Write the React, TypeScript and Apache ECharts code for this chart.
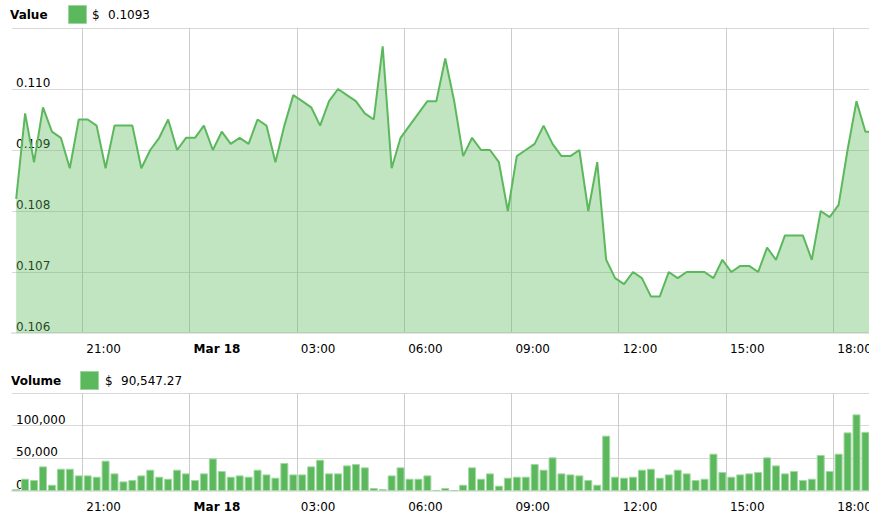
import React, { useEffect, useRef } from 'react';
import * as echarts from 'echarts';

// Price (USD) every 15 minutes, first point Mar 17 19:09
const priceValues = [
  0.1082, 0.1096, 0.1088, 0.1097, 0.1093, 0.1092, 0.1087, 0.1095, 0.1095, 0.1094,
  0.1087, 0.1094, 0.1094, 0.1094, 0.1087, 0.1090, 0.1092, 0.1095, 0.1090, 0.1092,
  0.1092, 0.1094, 0.1090, 0.1093, 0.1091, 0.1092, 0.1091, 0.1095, 0.1094, 0.1088,
  0.1094, 0.1099, 0.1098, 0.1097, 0.1094, 0.1098, 0.1100, 0.1099, 0.1098, 0.1096,
  0.1095, 0.1107, 0.1087, 0.1092, 0.1094, 0.1096, 0.1098, 0.1098, 0.1105, 0.1098,
  0.1089, 0.1092, 0.1090, 0.1090, 0.1088, 0.1080, 0.1089, 0.1090, 0.1091, 0.1094,
  0.1091, 0.1089, 0.1089, 0.1090, 0.1080, 0.1088, 0.1072, 0.1069, 0.1068, 0.1070,
  0.1069, 0.1066, 0.1066, 0.1070, 0.1069, 0.1070, 0.1070, 0.1070, 0.1069, 0.1072,
  0.1070, 0.1071, 0.1071, 0.1070, 0.1074, 0.1072, 0.1076, 0.1076, 0.1076, 0.1072,
  0.1080, 0.1079, 0.1081, 0.1090, 0.1098, 0.1093,
];

// Volume (USD) per 15-minute interval
const volumeValues = [
  3000, 18800, 16800, 37700, 9600, 34100, 34100, 23900, 23900, 21900,
  46400, 27000, 14700, 16800, 23900, 32600, 21900, 18800, 32600, 27000,
  16800, 27000, 49900, 30600, 21900, 23900, 21900, 32600, 25400, 20400,
  42900, 25400, 25400, 37700, 47900, 27000, 27000, 39200, 41300, 36200,
  4600, 3000, 23900, 36200, 18800, 18800, 23900, 1500, 4600, 1500,
  9600, 36200, 18800, 27000, 8200, 20400, 21900, 21900, 41300, 32600,
  51500, 27000, 25400, 23900, 16800, 9600, 84700, 21900, 20400, 21900,
  32600, 34100, 20400, 25400, 32600, 27000, 16800, 18800, 57100, 29100,
  21900, 25400, 27000, 29100, 51500, 39200, 27000, 30600, 16800, 18800,
  55100, 30600, 57100, 89700, 117300, 90547.27,
];

const latestPrice = 0.1093;
const latestVolume = 90547.27;

// time in minutes relative to Mar 18 00:00
const firstPointMinute = -291;
const stepMinutes = 15;
const axisStartMinute = -298;
const axisEndMinute = 1140;

const tickMinutes = [-180, 0, 180, 360, 540, 720, 900, 1080];
const tickLabels = ['21:00', 'Mar 18', '03:00', '06:00', '09:00', '12:00', '15:00', '18:00'];

const FONT = '"DejaVu Sans", Verdana, sans-serif';
const GREEN = '#5cb85c';

function fmtThousands(v: number, decimals = 0): string {
  return v.toLocaleString('en-US', { minimumFractionDigits: decimals, maximumFractionDigits: decimals });
}

export default function App() {
  const ref = useRef<HTMLDivElement>(null);

  useEffect(() => {
    if (!ref.current) return;
    const chart = echarts.init(ref.current, undefined, { renderer: 'svg' });

    const xLabelFormatter = (v: number) => {
      const idx = tickMinutes.indexOf(Math.round(v));
      if (idx < 0) return '';
      const t = tickLabels[idx];
      return idx === 1 ? `{b|${t}}` : t;
    };

    const makeX = (gridIndex: number) => ({
      type: 'value',
      gridIndex,
      min: axisStartMinute,
      max: axisEndMinute,
      axisLine: { show: true, lineStyle: { color: '#e4e4e4', width: 2 } },
      axisTick: { show: false, customValues: tickMinutes },
      axisLabel: {
        customValues: tickMinutes,
        formatter: xLabelFormatter,
        align: 'left',
        padding: [0, 0, 0, 4],
        margin: 10,
        fontSize: 12,
        fontFamily: FONT,
        color: '#000',
        rich: { b: { fontWeight: 'bold', fontSize: 12, fontFamily: FONT, color: '#000' } },
      },
      splitLine: { show: true, lineStyle: { color: '#cccccc', width: 1 } },
    });

    const yLabelBase = {
      inside: true,
      margin: 4,
      verticalAlign: 'bottom',
      showMaxLabel: false,
      fontSize: 12,
      fontFamily: FONT,
      color: '#000',
    };

    const legendText = (x: number, y: number, text: string, bold = false) => ({
      type: 'text',
      x,
      y,
      style: {
        text,
        fontSize: 12,
        fontFamily: FONT,
        fontWeight: bold ? 'bold' : 'normal',
        fill: '#000',
        verticalAlign: 'middle',
        align: 'left',
      },
    });

    const legendBox = (x: number, y: number) => ({
      type: 'rect',
      shape: { x: x + 0.5, y: y + 0.5, width: 18, height: 18 },
      style: { fill: GREEN, stroke: '#9fd49f', lineWidth: 1 },
    });

    chart.setOption({
      animation: false,
      backgroundColor: '#fff',
      grid: [
        { left: 12, right: 0, top: 28, height: 305, containLabel: false, outerBoundsMode: 'none' },
        { left: 12, right: 0, top: 393, height: 98, containLabel: false, outerBoundsMode: 'none' },
      ],
      xAxis: [makeX(0), makeX(1)],
      yAxis: [
        {
          type: 'value',
          gridIndex: 0,
          min: 0.106,
          max: 0.111,
          interval: 0.001,
          axisLine: { show: false },
          axisTick: { show: false },
          axisLabel: { ...yLabelBase, formatter: (v: number) => v.toFixed(3) },
          splitLine: { show: true, lineStyle: { color: '#d9d9d9', width: 1 } },
        },
        {
          type: 'value',
          gridIndex: 1,
          min: 0,
          max: 150000,
          interval: 50000,
          axisLine: { show: false },
          axisTick: { show: false },
          axisLabel: { ...yLabelBase, formatter: (v: number) => fmtThousands(v) },
          splitLine: { show: true, lineStyle: { color: '#d9d9d9', width: 1 } },
        },
      ],
      series: [
        {
          type: 'line',
          xAxisIndex: 0,
          yAxisIndex: 0,
          data: priceValues
            .map((v, i) => [firstPointMinute + i * stepMinutes, v])
            .concat([[axisEndMinute, latestPrice]]),
          showSymbol: false,
          clip: true,
          lineStyle: { color: GREEN, width: 2 },
          itemStyle: { color: GREEN },
          areaStyle: { color: GREEN, opacity: 0.38, origin: 'start' },
        },
        {
          type: 'bar',
          xAxisIndex: 1,
          yAxisIndex: 1,
          data: volumeValues.map((v, i) => [firstPointMinute + i * stepMinutes, v]),
          barWidth: 8,
          clip: true,
          itemStyle: { color: GREEN, borderColor: '#a3d8a3', borderWidth: 1 },
        },
      ],
      graphic: [
        legendText(10, 15, 'Value', true),
        legendBox(68, 5),
        legendText(92, 15, '$'),
        legendText(108, 15, latestPrice.toFixed(4)),
        legendText(11, 381, 'Volume', true),
        legendBox(80, 371),
        legendText(105, 381, '$'),
        legendText(121, 381, fmtThousands(latestVolume, 2)),
      ],
    });

    return () => chart.dispose();
  }, []);

  return (
    <div
      ref={ref}
      style={{ position: 'absolute', left: 0, top: 0, width: 869, height: 518, overflow: 'hidden' }}
    />
  );
}
